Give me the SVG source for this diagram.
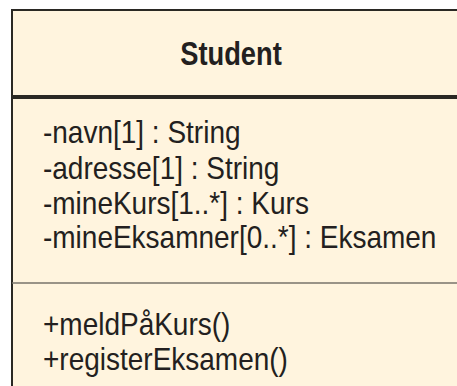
<svg xmlns="http://www.w3.org/2000/svg" width="457" height="386" viewBox="0 0 457 386">
<style>
.t{font-family:"Liberation Sans",Arial,sans-serif;font-size:28px;fill:#231f20}
.h{font-family:"Liberation Sans",Arial,sans-serif;font-size:27.3px;font-weight:bold;fill:#231f20}
</style>
<rect width="457" height="386" fill="#ffffff"/>
<g id="student">
<rect x="12" y="10" width="460" height="400" fill="#fff4de" stroke="#2a2823" stroke-width="2"/>
<line x1="12" y1="97" x2="457" y2="97" stroke="#2a2823" stroke-width="4"/>
<line x1="12" y1="283" x2="457" y2="283" stroke="#77736a" stroke-width="1.5"/>
<text class="h" x="231" y="0" text-anchor="middle" transform="translate(0,64.5) scale(1,1.209)">Student</text>
<text class="t" x="43" y="0" transform="translate(0,143) scale(1,1.143)">-navn[1] : String</text>
<text class="t" x="43" y="0" transform="translate(0,178.5) scale(1,1.143)">-adresse[1] : String</text>
<text class="t" x="43" y="0" transform="translate(0,213.5) scale(1,1.143)">-mineKurs[1..*] : Kurs</text>
<text class="t" x="43" y="0" transform="translate(0,248) scale(1,1.143)">-mineEksamner[0..*] : Eksamen</text>
<text class="t" x="43" y="0" transform="translate(0,335) scale(1,1.143)">+meldPåKurs()</text>
<text class="t" x="43" y="0" transform="translate(0,370) scale(1,1.143)">+registerEksamen()</text>
</g>
</svg>
